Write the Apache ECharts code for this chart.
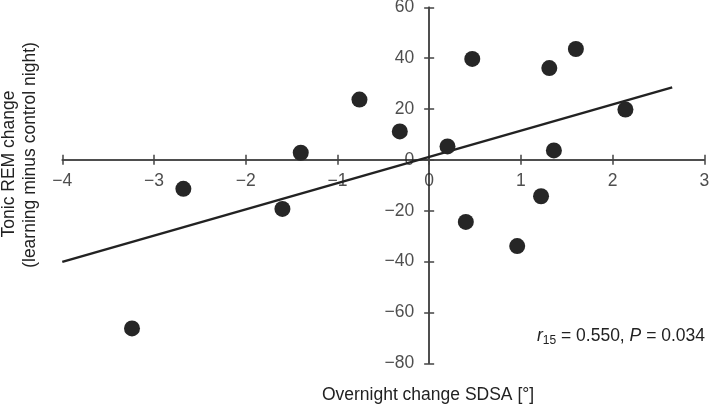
<!DOCTYPE html>
<html>
<head>
<meta charset="utf-8">
<script src="https://cdn.jsdelivr.net/npm/echarts@6/dist/echarts.min.js"></script>
<style>
html,body{margin:0;padding:0;background:#fff;}
#chart{width:709px;height:406px;}
</style>
</head>
<body>
<div id="chart"></div>
<script>
// Data
const xValues = [-3.24, -2.68, -1.60, -1.40, -0.76, -0.32, 0.20, 0.40, 0.47, 0.96, 1.22, 1.31, 1.36, 1.60, 2.14];
const yValues = [-66.3, -11.4, -19.3, 2.8, 23.7, 11.2, 5.3, -24.4, 39.7, -33.9, -14.3, 36.1, 3.7, 43.6, 19.8];
const fitX = [-4, 2.65];
const fitY = [-40.1, 28.5];
const xTicks = [-4, -3, -2, -1, 0, 1, 2, 3];
const yTicks = [-80, -60, -40, -20, 0, 20, 40, 60];
const xTitle = 'Overnight change SDSA [°]';
const yTitle = ['Tonic REM change', '(learning minus control night)'];

const FONT = '"Liberation Sans", Arial, Helvetica, sans-serif';
const FS = 17.5;
const TXT = '#222';
const AX = '#444';

const points = xValues.map((x, i) => [x, yValues[i]]);
const fitLine = fitX.map((x, i) => [x, fitY[i]]);
const fmt = v => (v < 0 ? '\u2212' + Math.abs(v) : String(v));

const chart = echarts.init(document.getElementById('chart'));
const baseX = (idx, inside) => ({
  type: 'value', min: xTicks[0], max: xTicks[xTicks.length - 1], interval: 1,
  position: 'bottom',
  axisLine: { onZero: true, onZeroAxisIndex: idx, lineStyle: { color: AX, width: 1.5 } },
  axisTick: { show: true, inside: inside, length: 5, lineStyle: { color: AX, width: 1.5 } },
  axisLabel: { show: false },
  splitLine: { show: false }
});
const baseY = (idx, inside) => ({
  type: 'value', min: yTicks[0], max: yTicks[yTicks.length - 1], interval: 20,
  position: 'left',
  axisLine: { onZero: true, onZeroAxisIndex: idx, lineStyle: { color: AX, width: 1.5 } },
  axisTick: { show: true, inside: inside, length: 5, lineStyle: { color: AX, width: 1.5 } },
  axisLabel: { show: false },
  splitLine: { show: false }
});
const labelStyle = { fontFamily: FONT, fontSize: FS, color: TXT };
chart.setOption({
  animation: false,
  grid: { left: 62.3, right: 4.7, top: 7.3, bottom: 42.7 },
  xAxis: [baseX(0, false), baseX(1, true)],
  yAxis: [baseY(0, false), baseY(1, true)],
  series: [
    {
      type: 'line', data: fitLine, xAxisIndex: 0, yAxisIndex: 0,
      symbol: 'none', lineStyle: { color: '#222', width: 2.5 }, z: 3
    },
    {
      type: 'scatter', data: points, xAxisIndex: 0, yAxisIndex: 0,
      symbolSize: 16, itemStyle: { color: '#262626', opacity: 1 }, z: 4
    },
    {
      type: 'scatter', xAxisIndex: 0, yAxisIndex: 0, clip: false, silent: true,
      data: xTicks.map(v => [v, 0]), symbolSize: 0,
      label: Object.assign({ show: true, position: 'bottom', distance: 12, formatter: p => fmt(p.value[0]) }, labelStyle), z: 2
    },
    {
      type: 'scatter', xAxisIndex: 0, yAxisIndex: 0, clip: false, silent: true,
      data: yTicks.map(v => [0, v]), symbolSize: 0,
      label: Object.assign({ show: true, position: 'left', distance: 15, formatter: p => fmt(p.value[1]) }, labelStyle), z: 2
    }
  ],
  graphic: [
    {
      type: 'text', x: 428, y: 395,
      style: { text: xTitle, font: FS + 'px ' + FONT, fill: TXT, textAlign: 'center', textVerticalAlign: 'middle' }
    },
    {
      type: 'text', x: 9, y: 164, rotation: Math.PI / 2,
      style: { text: yTitle[0], font: FS + 'px ' + FONT, fill: TXT, textAlign: 'center', textVerticalAlign: 'middle' }
    },
    {
      type: 'text', x: 30, y: 155, rotation: Math.PI / 2,
      style: { text: yTitle[1], font: FS + 'px ' + FONT, fill: TXT, textAlign: 'center', textVerticalAlign: 'middle' }
    },
    {
      type: 'text', right: 4, top: 327,
      style: {
        text: '{i|r}{sub|15}{n| = 0.550, }{i|P}{n| = 0.034}',
        rich: {
          i: { fontFamily: FONT, fontSize: FS, fontStyle: 'italic', fill: TXT, fontWeight: 'normal' },
          n: { fontFamily: FONT, fontSize: FS, fill: TXT },
          sub: { fontFamily: FONT, fontSize: 12, fill: TXT, padding: [9, 0, 0, 0] }
        },
        fill: TXT, font: FS + 'px ' + FONT
      }
    }
  ]
});
</script>
</body>
</html>
